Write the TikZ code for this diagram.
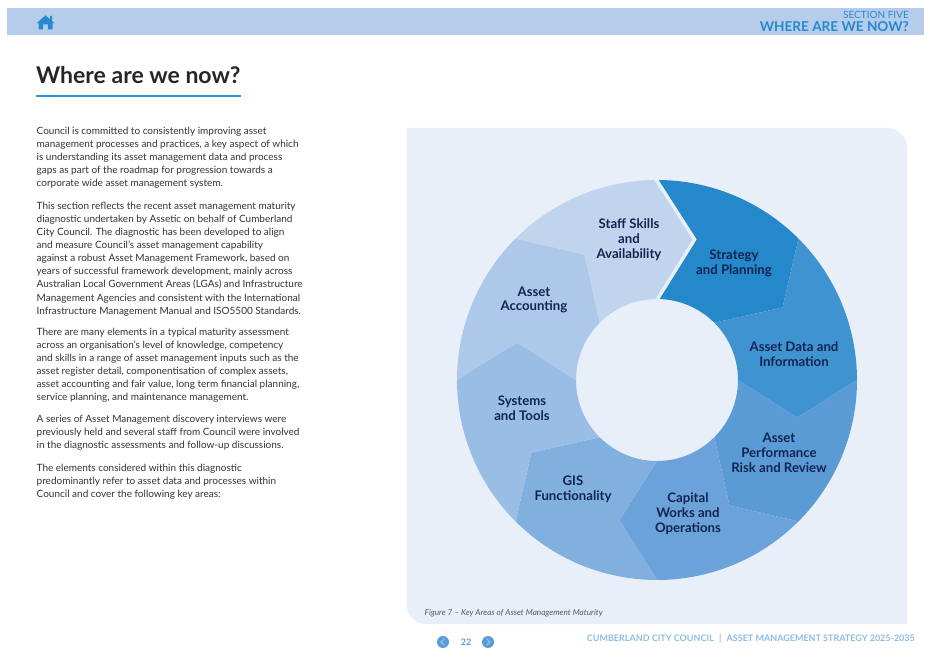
\documentclass[tikz,border=0pt]{standalone}
\usepackage{fontspec}
\setmainfont{Lato}
\usetikzlibrary{positioning}
\definecolor{headerbar}{RGB}{181,204,234}
\definecolor{accentblue}{RGB}{38,138,205}
\definecolor{rulerblue}{RGB}{43,150,219}
\definecolor{panelbg}{RGB}{232,239,249}
\definecolor{inktext}{RGB}{51,51,51}
\definecolor{navytext}{RGB}{18,36,80}
\definecolor{footblue}{RGB}{143,187,232}
\definecolor{navblue}{RGB}{91,155,213}
\definecolor{ringa}{RGB}{36,136,202}
\definecolor{ringb}{RGB}{63,147,209}
\definecolor{ringc}{RGB}{90,155,213}
\definecolor{ringd}{RGB}{108,162,218}
\definecolor{ringe}{RGB}{130,176,222}
\definecolor{ringf}{RGB}{154,189,229}
\definecolor{ringg}{RGB}{173,200,232}
\definecolor{ringh}{RGB}{192,212,238}
\tikzset{
  para/.style={
    anchor=north west,
    align=left,
    inner sep=0pt,
    text=inktext,
    font=\fontsize{10}{13.1}\selectfont
  },
  area/.style={
    align=center,
    inner sep=0pt,
    text=navytext,
    font=\fontsize{13.2}{14.8}\selectfont\bfseries
  },
  navdot/.style={circle, fill=navblue, minimum size=12pt, inner sep=0pt},
  navtip/.style={footblue, line width=1.2pt}
}
\begin{document}
\begin{tikzpicture}[x=1pt, y=1pt]
        \useasboundingbox (0,-660) rectangle (930,0);
        \fill[white] (0,-660) rectangle (930,0);
        % header bar
        \fill[headerbar] (6.5,-8) rectangle (924,-35);
        \fill[accentblue] (45.5,-15.5) -- (50,-19.3) -- (50,-16) -- (52,-16) -- (52,-21) -- (54.5,-23.2) -- (52.5,-23.2) -- (52.5,-29.5) -- (47.8,-29.5) -- (47.8,-24.5) -- (43.2,-24.5) -- (43.2,-29.5) -- (38.5,-29.5) -- (38.5,-23.2) -- (36.5,-23.2) -- cycle;
        \node[anchor=east, inner sep=0pt, text=accentblue, font=\fontsize{10}{12}\selectfont] (section) at (909,-14.5) {SECTION FIVE};
        \node[anchor=east, inner sep=0pt, text=accentblue, font=\fontsize{13.6}{16}\selectfont\bfseries] (sectitle) at (909,-26.5) {WHERE ARE WE NOW?};
        % title
        \node[anchor=base west, inner sep=0pt, text=black!85, font=\fontsize{23}{26}\selectfont\bfseries] (title) at (36,-83.5) {Where are we now?};
        \draw[rulerblue, line width=1.8pt] (36,-96) -- (241,-96);
        % body text
        \node[para] (p1) at (36.5,-126.5) {Council is committed to consistently improving asset\\management processes and practices, a key aspect of which\\is understanding its asset management data and process\\gaps as part of the roadmap for progression towards a\\corporate wide asset management system.};
        \node[para] (p2) at (36.5,-201.8) {This section reflects the recent asset management maturity\\diagnostic undertaken by Assetic on behalf of Cumberland\\City Council. The diagnostic has been developed to align\\and measure Council’s asset management capability\\against a robust Asset Management Framework, based on\\years of successful framework development, mainly across\\Australian Local Government Areas (LGAs) and Infrastructure\\Management Agencies and consistent with the International\\Infrastructure Management Manual and ISO5500 Standards.};
        \node[para] (p3) at (36.5,-327.8) {There are many elements in a typical maturity assessment\\across an organisation’s level of knowledge, competency\\and skills in a range of asset management inputs such as the\\asset register detail, componentisation of complex assets,\\asset accounting and fair value, long term financial planning,\\service planning, and maintenance management.};
        \node[para] (p4) at (36.5,-415.2) {A series of Asset Management discovery interviews were\\previously held and several staff from Council were involved\\in the diagnostic assessments and follow-up discussions.};
        \node[para] (p5) at (36.5,-463.8) {The elements considered within this diagnostic\\predominantly refer to asset data and processes within\\Council and cover the following key areas:};
        % panel
        \fill[panelbg] (406.5,-128) -- (887,-128) arc[start angle=90, end angle=0, radius=20pt] -- (907,-624) -- (426.5,-624) arc[start angle=270, end angle=180, radius=20pt] -- cycle;
        % ring
        \coordinate (hub) at (657,-380);
        \begin{scope}[shift={(hub)}]
          \foreach \ang/\col in {90/ringa, 45/ringb, 0/ringc, -45/ringd, -90/ringe, -135/ringf, -180/ringg, -225/ringh}
            \fill[\col] (\ang:200) arc[start angle=\ang, end angle=\ang-45, radius=200pt] -- (\ang-60:145) -- (\ang-45:81) arc[start angle=\ang-45, end angle=\ang, radius=81pt] -- (\ang-15:145) -- cycle;
          \draw[panelbg, line width=3.4pt, line join=miter] (90.5:202) -- (75:145.5) -- (90.5:79);
        \end{scope}
        \node[area] (staff) at (629,-239.5) {Staff Skills\\and\\Availability};
        \node[area] (strategy) at (734,-263.5) {Strategy\\and Planning};
        \node[area] (data) at (794,-354.5) {Asset Data and\\Information};
        \node[area] (perf) at (779,-453) {Asset\\Performance\\Risk and Review};
        \node[area] (works) at (688,-514) {Capital\\Works and\\Operations};
        \node[area] (gis) at (573,-489.5) {GIS\\Functionality};
        \node[area] (tools) at (522,-408.5) {Systems\\and Tools};
        \node[area] (acct) at (534,-300) {Asset\\Accounting};
        \node[anchor=west, inner sep=0pt, text=black!65, font=\fontsize{8.2}{9}\selectfont\itshape] (caption) at (424.5,-613) {Figure 7 – Key Areas of Asset Management Maturity};
        % footer
        \node[navdot] (prev) at (443,-642) {};
        \node[navdot] (next) at (488,-642) {};
        \draw[navtip] (444.5,-638.5) -- (441,-642) -- (444.5,-645.5);
        \draw[navtip] (486.5,-638.5) -- (490,-642) -- (486.5,-645.5);
        \node[inner sep=0pt, text=navblue, font=\fontsize{9}{11}\selectfont\bfseries] (page) at (466,-642) {22};
        \node[anchor=east, inner sep=0pt, text=footblue, font=\fontsize{9}{10}\selectfont\bfseries] (footer) at (915,-639) {CUMBERLAND CITY COUNCIL\hspace{3pt} | \hspace{3pt}ASSET MANAGEMENT STRATEGY 2025-2035};
      \end{tikzpicture}
\end{document}
